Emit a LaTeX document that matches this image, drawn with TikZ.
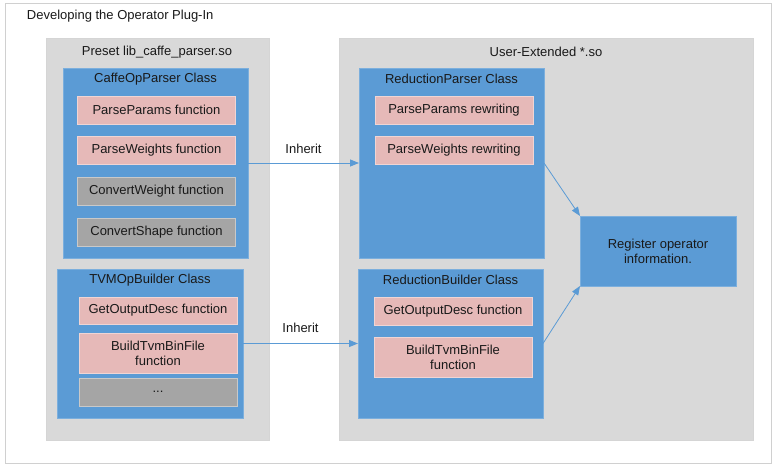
\documentclass[tikz,border=0pt]{standalone}
\usepackage{fontspec}
\setmainfont{Liberation Sans}
\usepackage{tikz}
\usetikzlibrary{arrows.meta, positioning}
\definecolor{classBlue}{HTML}{5B9BD5}
\definecolor{funcPink}{HTML}{E6B9B8}
\definecolor{funcGray}{HTML}{A5A5A5}
\definecolor{panelGray}{HTML}{D9D9D9}
\definecolor{frameGray}{HTML}{D0D0D0}

\begin{document}
\begin{tikzpicture}[
    x=1pt, y=-1pt,
    % ── shared styles ───────────────────────────────────────────────
    every node/.style={font=\fontsize{13}{15}\selectfont, text=black!90,
        inner sep=0pt, outer sep=0pt},
    frame box/.style={
        rectangle, fill=white, draw=frameGray, line width=1pt,
        minimum width=766pt, minimum height=460pt,
    },
    panel/.style={
        rectangle, fill=panelGray, draw=panelGray!85!black!60, line width=0.4pt,
        minimum height=402pt,
    },
    class box/.style={
        rectangle, fill=classBlue, draw=classBlue!80!white, line width=0.6pt,
    },
    func/.style={
        rectangle, fill=funcPink, draw=funcPink!60!white, line width=0.6pt,
        minimum width=158pt, minimum height=28pt, align=center,
    },
    func gray/.style={
        func, fill=funcGray, draw=funcGray!60!white,
    },
    conn/.style={
        -{Triangle[length=9pt,width=7pt]},
        classBlue, line width=0.8pt,
    },
    conn label/.style={text=black!90},
]
\useasboundingbox (0,0) rectangle (777,471);

% =============================================================
%  FRAME
% =============================================================
\node[frame box] (frame) at (388,233) {};
\node[anchor=west] (title) at (27,16) {Developing the Operator Plug-In};

% =============================================================
%  PRESET LIBRARY (left)
% =============================================================
\node[panel, minimum width=223pt] (lpanel) at (157.5,239) {};
\node (ltitle) at (157,52) {Preset lib\_caffe\_parser.so};

% CaffeOpParser class
\node[class box, minimum width=185pt, minimum height=190pt] (caffe) at (155.5,163) {};
\node (caffetitle) at (155.5,79) {CaffeOpParser Class};
\node[func] (cpp) at (156.5,110) {ParseParams function};
\node[func] (cpw) at (156.5,150) {ParseWeights function};
\node[func gray] (ccw) at (156.5,191) {ConvertWeight function};
\node[func gray] (ccs) at (156.5,232) {ConvertShape function};

% TVMOpBuilder class
\node[class box, minimum width=186pt, minimum height=149pt] (tvm) at (150,343.5) {};
\node (tvmtitle) at (150,280) {TVMOpBuilder Class};
\node[func, minimum height=27pt] (tgo) at (158,310.5) {GetOutputDesc function};
\node[func, minimum height=40pt] (tbb) at (158,353) {BuildTvmBinFile\\function};
\node[func gray, text depth=-4pt] (tdots) at (158,392) {...};

% =============================================================
%  USER-EXTENDED LIBRARY (right)
% =============================================================
\node[panel, minimum width=414pt] (rpanel) at (546,239) {};
\node (rtitle) at (546,52) {User-Extended *.so};

% ReductionParser class
\node[class box, minimum width=185pt, minimum height=190pt] (rparser) at (451.5,163) {};
\node (rparsertitle) at (451.5,79) {ReductionParser Class};
\node[func] (rpp) at (454,110) {ParseParams rewriting};
\node[func] (rpw) at (454,150) {ParseWeights rewriting};

% ReductionBuilder class
\node[class box, minimum width=185pt, minimum height=149pt] (rbuilder) at (450.5,343.5) {};
\node (rbuildertitle) at (450.5,280) {ReductionBuilder Class};
\node[func] (rgo) at (453,311) {GetOutputDesc function};
\node[func, minimum height=40pt] (rbb) at (453,357) {BuildTvmBinFile\\function};

% Register
\node[class box, minimum width=156pt, minimum height=70pt, align=center] (register)
    at (658,251) {Register operator\\information.};

% =============================================================
%  Connections
% =============================================================
\draw[conn] (caffe.east) -- node[conn label, above=9pt] (inh1) {Inherit} (rparser.west);
\draw[conn] (tvm.east) -- node[conn label, above=11pt] (inh2) {Inherit} (rbuilder.west);

\draw[conn] (rparser.east) -- (register.north west);
\draw[conn] (rbuilder.east) -- (register.south west);

\end{tikzpicture}
\end{document}
